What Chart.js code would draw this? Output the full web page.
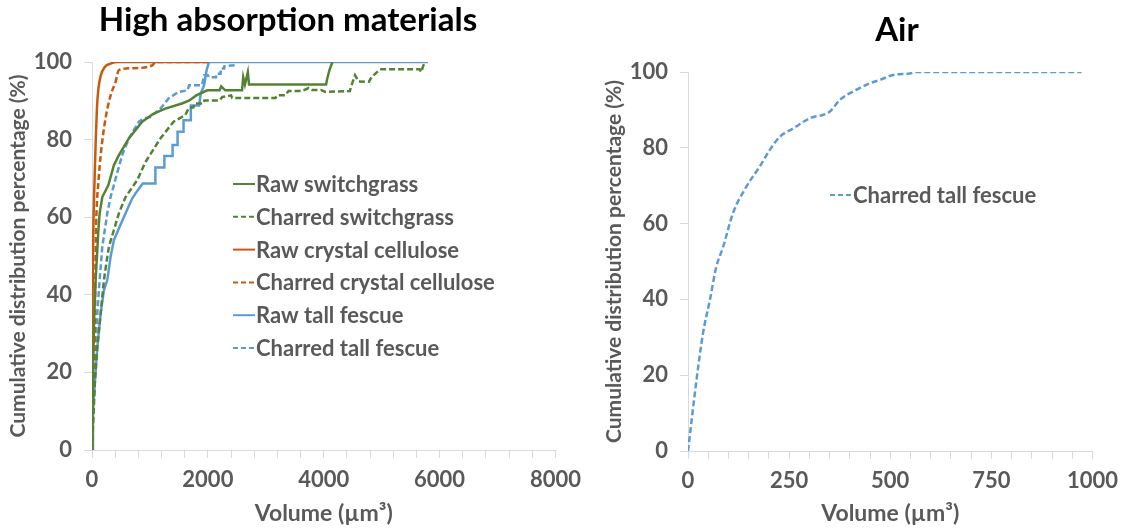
<!DOCTYPE html>
<html>
<head>
<meta charset="utf-8">
<script src="https://cdn.jsdelivr.net/npm/chart.js@4.4.1/dist/chart.umd.min.js"></script>
<style>
  html, body { margin: 0; padding: 0; background: #fff; overflow: hidden; }
  #wrap { position: relative; width: 1127px; height: 531px; }
  canvas { position: absolute; top: 0; }
  #leftChart { left: 0; }
  #rightChart { left: 580px; }
</style>
</head>
<body>
<div id="wrap">
  <canvas id="leftChart" width="590" height="531"></canvas>
  <canvas id="rightChart" width="547" height="531"></canvas>
</div>
<script>
// cumulative distributions, volume in µm³ against percentage
const rawSwitchVol = [0, 20, 40, 63, 110, 132, 178, 281, 378, 464, 636, 866, 1065, 1265, 1552, 1681, 1800, 1990, 2200, 2230, 2300, 2590, 2610, 2640, 2690, 2710, 4040, 4060, 4100, 4150];
const rawSwitchPct = [0, 22, 35, 43.8, 56.7, 61, 65.2, 68.2, 73.4, 76, 80.3, 84.6, 86.7, 88, 89.3, 90.1, 91.4, 92.7, 92.7, 93.7, 92.7, 92.7, 96.1, 94.2, 97.4, 94.2, 94.2, 95.7, 98, 100];

const charSwitchVol = [0, 52, 92, 150, 206, 247, 292, 378, 464, 579, 779, 922, 1180, 1408, 1609, 1677, 1750, 1770, 1920, 1940, 2200, 2250, 2400, 2420, 3166, 3200, 3340, 3390, 3620, 3740, 3800, 3950, 4030, 4450, 4480, 4540, 4600, 4780, 4825, 4970, 5655, 5683, 5740];
const charSwitchPct = [0, 18, 26.6, 35.3, 43.8, 48.1, 52.4, 56.7, 61, 65.2, 69.5, 74.2, 80.3, 84.6, 86.3, 88.3, 88.3, 89.3, 89.3, 90.1, 90.1, 91, 91.4, 90.7, 90.7, 91.4, 91.4, 92.5, 92.5, 93.3, 92.8, 92.8, 92.3, 92.5, 94, 96.6, 95, 94.9, 96.1, 98.1, 98.1, 97.4, 100];

const rawCellVol = [0, 5, 10, 18, 30, 45, 65, 85, 110, 150, 220, 320, 450, 2000];
const rawCellPct = [0, 20, 38, 52, 62, 70, 80, 88, 93, 96.5, 98.7, 99.6, 100, 100];

const charCellVol = [0, 15, 34, 52, 63, 80, 110, 150, 224, 321, 407, 464, 693, 1037, 1100, 2020];
const charCellPct = [0, 8, 18, 35, 52.4, 62, 69, 76, 84.6, 91.4, 94.9, 97.9, 98.4, 99.1, 100, 100];

const rawFescueVol = [0, 17, 52, 92, 150, 206, 264, 321, 378, 464, 579, 693, 750, 876, 1094, 1094, 1249, 1249, 1391, 1391, 1477, 1477, 1580, 1580, 1706, 1706, 1850, 1878, 1935, 1978, 2020, 5800];
const rawFescuePct = [0, 9.4, 18, 26.6, 35.2, 41.2, 43.8, 49.8, 54.1, 57.1, 61, 64.8, 66.1, 68.7, 68.7, 72.8, 72.8, 75.8, 75.8, 78.6, 78.6, 82, 82, 85, 85, 88.8, 88.8, 91.9, 94, 97.9, 100, 100];

const charFescueVol = [0, 34, 63, 92, 132, 178, 264, 321, 390, 521, 636, 808, 900, 1008, 1180, 1322, 1494, 1650, 1677, 1900, 1935, 2000, 2020, 2140, 2150, 2220, 2222, 2280, 2285, 2500];
const charFescuePct = [0, 18, 26.6, 35.3, 43.8, 52.4, 61, 65.2, 69, 76, 80.3, 84.6, 85.5, 85.8, 88, 90.6, 92.3, 92.7, 94, 94, 96.6, 96.6, 96.1, 96.1, 97, 97, 98.3, 98.3, 98.9, 99.2];

const airFescueVol = [0, 21, 37, 54, 70, 87, 111, 144, 177, 202, 227, 260, 301, 350, 375, 416, 449, 474, 507, 548, 565, 973];
const airFescuePct = [0, 18.7, 31, 39.8, 48.6, 53.9, 62.7, 69.7, 75, 79.4, 82.9, 85.1, 87.8, 89.5, 92.6, 95.3, 97, 97.9, 99.2, 99.6, 100, 100];

const GREEN = '#548235';
const ORANGE = '#C55A11';
const BLUE = '#5B9BD5';
const GREY = '#595959';
const AXIS = '#D9D9D9';
const FONT = 'Lato';

function pts(xs, ys) {
    return xs.map((x, i) => ({ x: x, y: ys[i] }));
}

function series(label, xs, ys, color, dashed, smooth) {
    return {
        label: label,
        data: pts(xs, ys),
        borderColor: color,
        borderWidth: 2.5,
        borderDash: dashed ? [6, 3] : [],
        pointRadius: 0,
        fill: false,
        tension: 0,
        cubicInterpolationMode: smooth ? 'monotone' : 'default'
    };
}

// panel title and in-plot legend, drawn on top of the plot
const panelDecor = {
    id: 'panelDecor',
    afterDraw(chart, args, opts) {
        const ctx = chart.ctx;
        ctx.save();
        ctx.font = 'bold 33px ' + FONT;
        ctx.fillStyle = '#000';
        ctx.textAlign = 'center';
        ctx.textBaseline = 'middle';
        ctx.fillText(opts.title, opts.titleX, opts.titleY);

        ctx.font = 'bold 22px ' + FONT;
        ctx.textAlign = 'left';
        chart.data.datasets.forEach((ds, i) => {
            const y = opts.legendY + i * opts.legendGap;
            ctx.strokeStyle = ds.borderColor;
            ctx.lineWidth = 2;
            ctx.setLineDash(ds.borderDash.length ? [5, 3] : []);
            ctx.beginPath();
            ctx.moveTo(opts.legendX, y);
            ctx.lineTo(opts.legendX + 22, y);
            ctx.stroke();
            ctx.setLineDash([]);
            ctx.fillStyle = GREY;
            ctx.fillText(ds.label, opts.legendX + 23, y + 1);
        });
        ctx.restore();
    }
};

function makeOptions(cfg) {
    return {
        responsive: false,
        animation: false,
        devicePixelRatio: 1,
        layout: { padding: { left: 0, right: cfg.padRight, top: cfg.padTop, bottom: 0 } },
        plugins: {
            legend: { display: false },
            tooltip: { enabled: false },
            panelDecor: cfg.decor
        },
        scales: {
            x: {
                type: 'linear',
                min: 0,
                max: cfg.xMax,
                afterFit: s => { s.height = cfg.xHeight; },
                grid: { drawOnChartArea: false, drawTicks: true, tickLength: 8, color: AXIS },
                border: { color: AXIS },
                ticks: {
                    stepSize: cfg.xMinor,
                    autoSkip: false,
                    maxRotation: 0,
                    minRotation: 0,
                    padding: 9,
                    color: GREY,
                    font: { family: FONT, size: 22, weight: 'bold' },
                    callback: v => (v % cfg.xMajor === 0 ? String(v) : '')
                },
                title: {
                    display: true,
                    text: 'Volume (µm³)',
                    color: GREY,
                    font: { family: FONT, size: 23, weight: 'bold' },
                    padding: { top: 0, bottom: 4 }
                }
            },
            y: {
                min: 0,
                max: 100,
                afterFit: s => { s.width = cfg.yWidth; },
                grid: { drawOnChartArea: false, drawTicks: true, tickLength: 8, color: AXIS },
                border: { color: AXIS },
                ticks: {
                    stepSize: 20,
                    padding: 12,
                    color: GREY,
                    font: { family: FONT, size: 22, weight: 'bold' }
                },
                title: {
                    display: true,
                    text: 'Cumulative distribution percentage (%)',
                    color: GREY,
                    font: { family: FONT, size: 21, weight: 'bold' },
                    padding: { top: cfg.yTitlePad, bottom: 0 }
                }
            }
        }
    };
}

new Chart(document.getElementById('leftChart'), {
    type: 'line',
    data: {
        datasets: [
            series('Raw switchgrass', rawSwitchVol, rawSwitchPct, GREEN, false, false),
            series('Charred switchgrass', charSwitchVol, charSwitchPct, GREEN, true, false),
            series('Raw crystal cellulose', rawCellVol, rawCellPct, ORANGE, false, true),
            series('Charred crystal cellulose', charCellVol, charCellPct, ORANGE, true, true),
            series('Raw tall fescue', rawFescueVol, rawFescuePct, BLUE, false, false),
            series('Charred tall fescue', charFescueVol, charFescuePct, BLUE, true, false)
        ]
    },
    options: makeOptions({
        padRight: 32, padTop: 62, xHeight: 81, yWidth: 92, yTitlePad: 6,
        xMax: 8000, xMinor: 400, xMajor: 2000,
        decor: { title: 'High absorption materials', titleX: 288, titleY: 20,
                 legendX: 233, legendY: 184, legendGap: 32.8 }
    }),
    plugins: [panelDecor]
});

new Chart(document.getElementById('rightChart'), {
    type: 'line',
    data: {
        datasets: [
            series('Charred tall fescue', airFescueVol, airFescuePct, BLUE, true, true)
        ]
    },
    options: makeOptions({
        padRight: 34, padTop: 72, xHeight: 80, yWidth: 108, yTitlePad: 22,
        xMax: 1000, xMinor: 50, xMajor: 250,
        decor: { title: 'Air', titleX: 317, titleY: 30,
                 legendX: 250, legendY: 195, legendGap: 0 }
    }),
    plugins: [panelDecor]
});
</script>
</body>
</html>
